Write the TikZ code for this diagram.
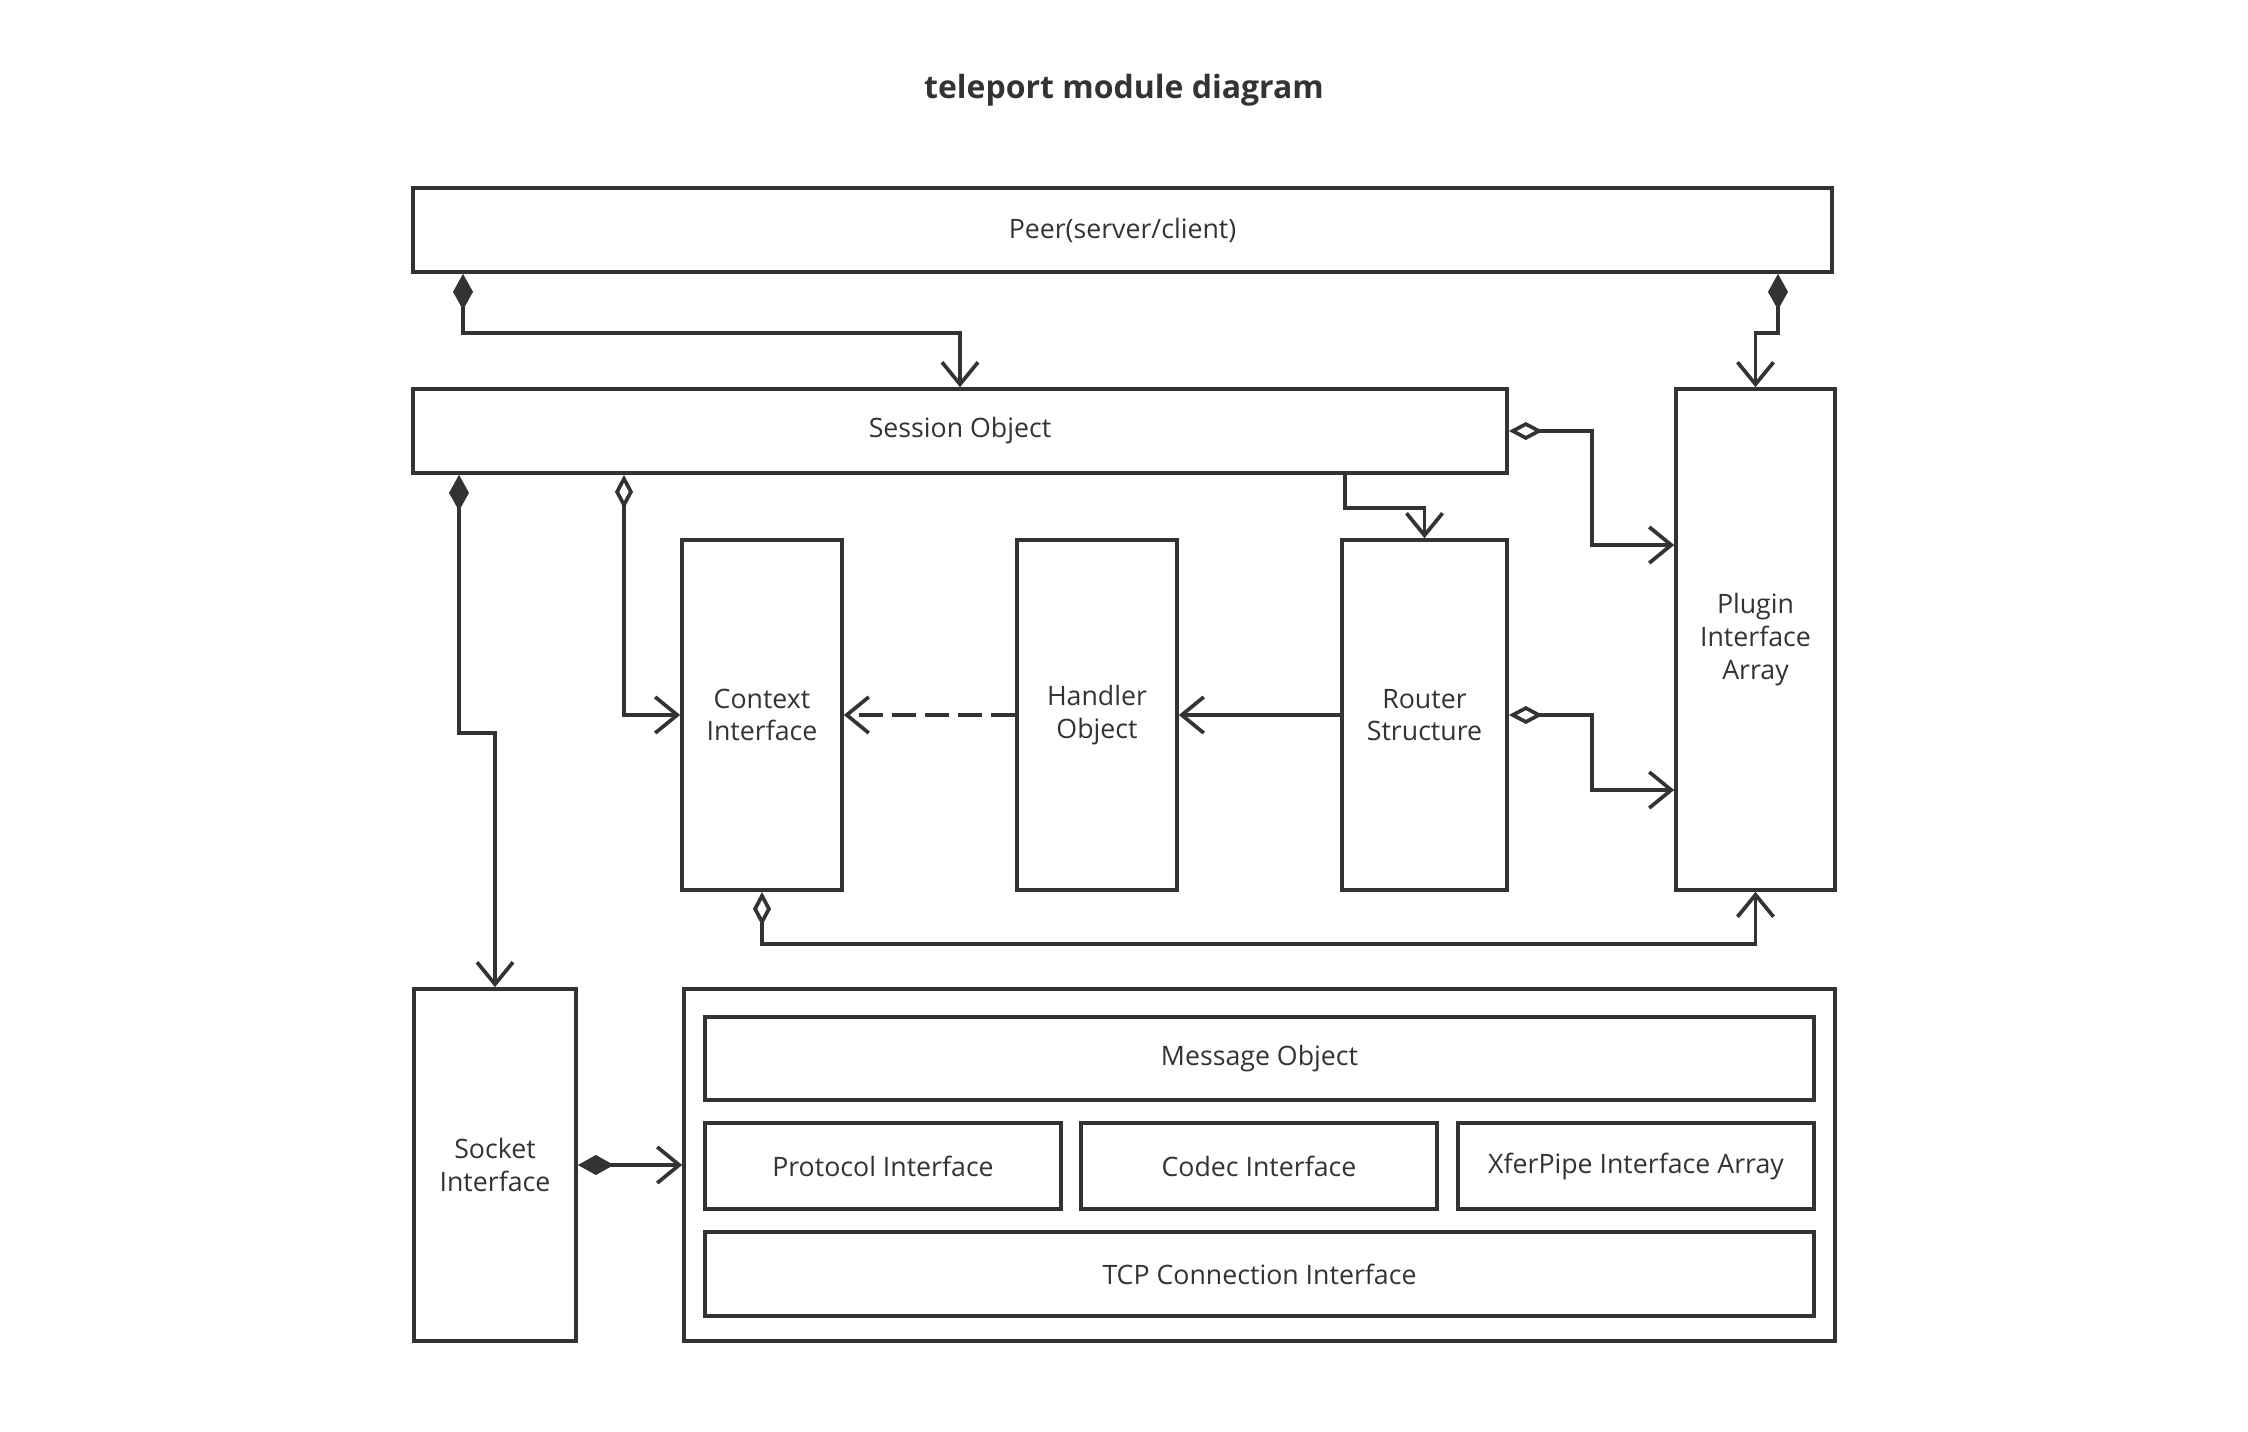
\documentclass[tikz,border=0pt]{standalone}
\usepackage{fontspec}
\setmainfont{Open Sans}
\usetikzlibrary{arrows.meta}
\definecolor{ink}{HTML}{333333}
\tikzset{block/.style = {shape=rectangle,draw=ink,line width=1.05pt,inner sep=0pt,align=center,text=ink,font=\fontsize{7.6}{9.3}\selectfont}}
\tikzset{link/.style = {draw=ink,line width=1.05pt}}
\tikzset{comp/.style = {link,arrows={Diamond[length=0.36cm,width=0.2cm]-Straight Barb[length=0.22cm,width=0.36cm]}}}
\tikzset{aggr/.style = {link,arrows={Diamond[open,length=0.34cm,width=0.18cm]-Straight Barb[length=0.22cm,width=0.36cm]}}}
\tikzset{dep/.style = {link,arrows={-Straight Barb[length=0.22cm,width=0.36cm]}}}

\begin{document}
\begin{tikzpicture}
\useasboundingbox (0,0) rectangle (22.48,-14.32);
% title
\node[text=ink,font=\bfseries\fontsize{9.1}{11}\selectfont] (title) at (11.24,-0.90) {teleport module diagram};
% blocks
\node[block,minimum width=14.19cm,minimum height=0.84cm] (peer) at (11.225,-2.30) {Peer(server/client)};
\node[block,minimum width=10.94cm,minimum height=0.84cm] (session) at (9.60,-4.31) {Session Object};
\node[block,minimum width=1.59cm,minimum height=5.01cm] (plugin) at (17.555,-6.395) {Plugin\\Interface\\Array};
\node[block,minimum width=1.60cm,minimum height=3.50cm] (context) at (7.62,-7.15) {Context\\Interface};
\node[block,minimum width=1.60cm,minimum height=3.50cm] (handler) at (10.97,-7.15) {Handler\\Object};
\node[block,minimum width=1.65cm,minimum height=3.50cm] (router) at (14.245,-7.15) {Router\\Structure};
\node[block,minimum width=1.62cm,minimum height=3.52cm] (socket) at (4.95,-11.65) {Socket\\Interface};
\node[block,minimum width=11.51cm,minimum height=3.52cm] (msgbox) at (12.595,-11.65) {};
\node[block,minimum width=11.09cm,minimum height=0.83cm] (message) at (12.595,-10.585) {Message Object};
\node[block,minimum width=3.56cm,minimum height=0.86cm] (protocol) at (8.83,-11.66) {Protocol Interface};
\node[block,minimum width=3.56cm,minimum height=0.86cm] (codec) at (12.59,-11.66) {Codec Interface};
\node[block,minimum width=3.56cm,minimum height=0.86cm] (xfer) at (16.36,-11.66) {XferPipe Interface Array};
\node[block,minimum width=11.09cm,minimum height=0.84cm] (tcp) at (12.595,-12.74) {TCP Connection Interface};
% edges
\draw[comp] ([xshift=-6.595cm]peer.south) -- ++(0,-0.59) -| (session.north);
\draw[comp] ([xshift=6.555cm]peer.south) -- ++(0,-0.59) -| (plugin.north);
\draw[aggr] (session.east) -- ++(0.83,0) |- ([yshift=0.945cm]plugin.west);
\draw[dep] ([xshift=3.85cm]session.south) -- ++(0,-0.33) -| (router.north);
\draw[comp] ([xshift=-5.01cm]session.south) -- ++(0,-2.58) -| (socket.north);
\draw[aggr] ([xshift=-3.36cm]session.south) |- (context.west);
\draw[dep,dash pattern=on 0.24cm off 0.09cm] (handler.west) -- (context.east);
\draw[dep] (router.west) -- (handler.east);
\draw[aggr] (router.east) -- ++(0.83,0) |- ([yshift=-1.505cm]plugin.west);
\draw[aggr] (context.south) -- ++(0,-0.52) -| (plugin.south);
\draw[comp] (socket.east) -- (msgbox.west);
\end{tikzpicture}
\end{document}
